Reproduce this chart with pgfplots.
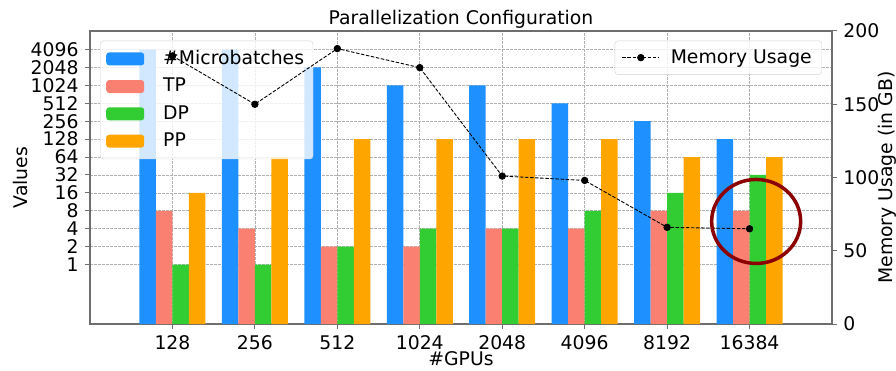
\documentclass[border=0pt]{standalone}
\usepackage{pgfplots}
\pgfplotsset{compat=1.18}
\usepackage{fontspec}
\setmainfont{DejaVu Sans}

\definecolor{mbblue}{HTML}{1E90FF}
\definecolor{tpsalmon}{HTML}{FA8072}
\definecolor{dpgreen}{HTML}{32CD32}
\definecolor{pporange}{HTML}{FFA500}
\definecolor{spine}{HTML}{6E6E6E}
\definecolor{gridgray}{HTML}{B0B0B0}
\definecolor{ringred}{HTML}{8B0000}

\newcommand{\chartfont}{\fontsize{18.8}{22}\selectfont}

\pgfplotsset{
  common/.style={
    at={(0pt,0pt)}, anchor=south west,
    scale only axis, width=742pt, height=293pt,
    xmin=-1, xmax=8,
    axis line style={spine, line width=1.2pt},
    tick style={spine, line width=1pt},
    tick align=outside,
    major tick length=5pt,
    /pgf/number format/assume math mode=true,
    tick label style={font=\chartfont},
    label style={font=\chartfont},
    legend style={font=\chartfont},
  },
  barleg/.style={legend image code/.code={%
    \fill[##1, fill opacity=1] (0pt,-6.5pt) rectangle (38pt,6.5pt);
    \path (46pt,0pt);}},
}

\begin{document}
\chartfont
\begin{tikzpicture}
% Bar axis: parallelization degrees on a log2 scale
\begin{axis}[
  common,
  title={Parallelization Configuration},
  title style={font=\chartfont, at={(axis description cs:0.5,1.0205)}, anchor=base, yshift=-6pt},
  ymode=log, log basis y=2, ymin=0.1, ymax=8400,
  log origin=infty,
  xtick={0,...,7},
  xticklabels={128,256,512,1024,2048,4096,8192,16384},
  ytick={1,2,4,8,16,32,64,128,256,512,1024,2048,4096},
  yticklabels={1,2,4,8,16,32,64,128,256,512,1024,2048,4096},
  xtick pos=left, ytick pos=left,
  xlabel={\#GPUs}, ylabel={Values},
  xlabel style={at={(axis description cs:0.5,-0.1433)}, anchor=base},
  ylabel style={at={(axis description cs:-0.0849,0.5)}, anchor=base},
  grid=major,
  major grid style={gridgray, line width=0.7pt, dash pattern=on 2.6pt off 1.4pt},
  legend cell align=left,
  legend style={at={(0.0135,0.967)}, anchor=north west,
    fill=white, fill opacity=0.8, text opacity=1,
    draw=gridgray!60, rounded corners=3pt,
    inner xsep=6pt, inner ysep=7.5pt,
    row sep=6.8pt, column sep=8pt,
    nodes={inner xsep=3pt}},
  ybar, bar width=0.2,
]
\addplot[barleg, ybar, bar shift=-0.3, fill=mbblue, draw=none]
  coordinates {(0,4096) (1,4096) (2,2048) (3,1024) (4,1024) (5,512) (6,256) (7,128)};
\addplot[barleg, ybar, bar shift=-0.1, fill=tpsalmon, draw=none]
  coordinates {(0,8) (1,4) (2,2) (3,2) (4,4) (5,4) (6,8) (7,8)};
\addplot[barleg, ybar, bar shift=0.1, fill=dpgreen, draw=none]
  coordinates {(0,1) (1,1) (2,2) (3,4) (4,4) (5,8) (6,16) (7,32)};
\addplot[barleg, ybar, bar shift=0.3, fill=pporange, draw=none]
  coordinates {(0,16) (1,64) (2,128) (3,128) (4,128) (5,128) (6,64) (7,64)};
\legend{\#Microbatches, TP, DP, PP}
\end{axis}

% Twin axis: memory usage per configuration
\begin{axis}[
  common,
  hide x axis,
  axis y line*=right,
  ymin=0, ymax=200,
  ytick={0,50,100,150,200},
  ylabel={Memory Usage (in GB)},
  ylabel style={at={(axis description cs:1.0822,0.5)}, anchor=base},
  legend style={at={(0.9865,0.967)}, anchor=north east,
    fill=white, fill opacity=0.8, text opacity=1,
    draw=gridgray!60, rounded corners=3pt,
    inner xsep=7pt, inner ysep=6.5pt,
    column sep=8pt,
    nodes={inner xsep=3pt}},
  legend image code/.code={%
    \draw[#1, mark=none, opacity=1] (0pt,0pt) -- (37pt,0pt);
    \draw[#1, solid, opacity=1] plot coordinates {(18.5pt,0pt)};},
]
\addplot[black, line width=0.9pt, dash pattern=on 3.5pt off 1.6pt,
  mark=*, mark size=3.2pt, mark options={solid}]
  coordinates {(0,183) (1,150) (2,188) (3,175) (4,101) (5,98) (6,66) (7,65)};
\legend{Memory Usage}
\draw[ringred, line width=3.5pt] (axis cs:7.08,70) ellipse [x radius=44.5pt, y radius=42pt];
\end{axis}

\pgfresetboundingbox
\useasboundingbox (-90pt,-46pt) rectangle (806pt,324pt);
\end{tikzpicture}
\end{document}
